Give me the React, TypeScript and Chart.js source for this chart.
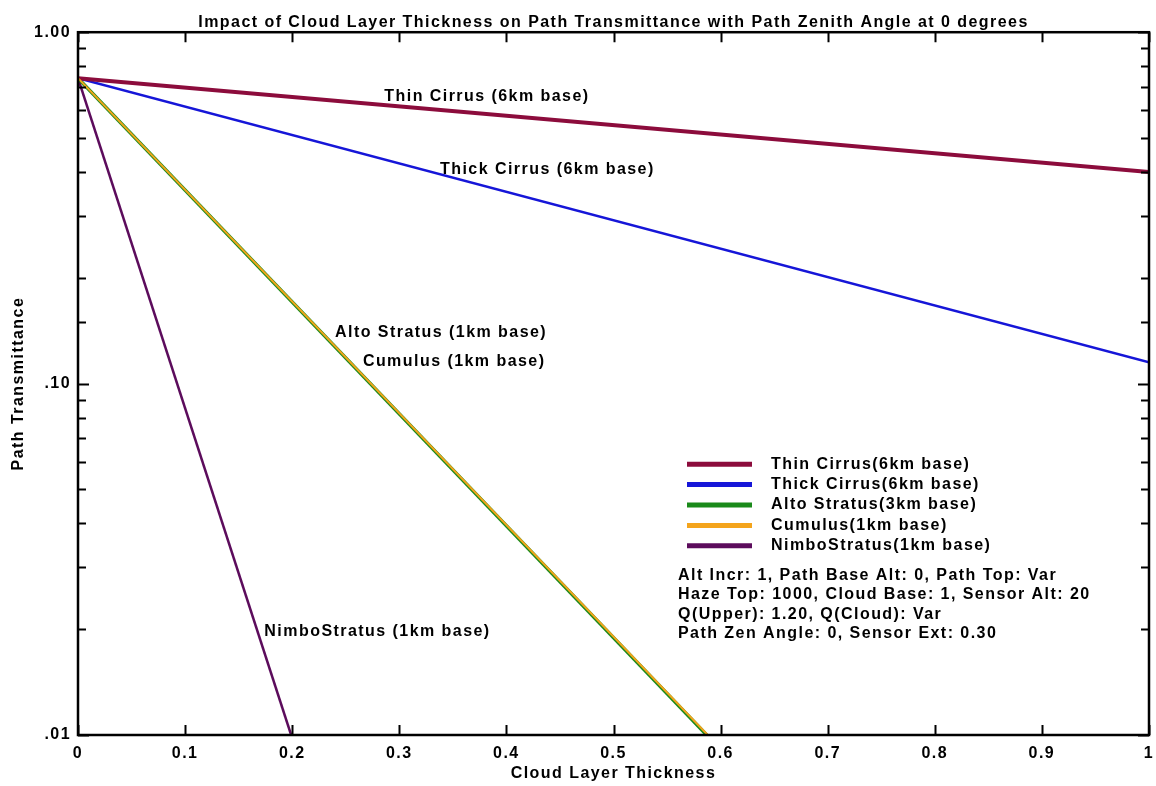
import React, { useEffect, useRef } from 'react';
import { Chart, registerables } from 'chart.js';

Chart.register(...registerables);

const chartTitle =
  'Impact of Cloud Layer Thickness on Path Transmittance with Path Zenith Angle at 0 degrees';
const xAxisTitle = 'Cloud Layer Thickness';
const yAxisTitle = 'Path Transmittance';

const seriesNames = [
  'Thin Cirrus(6km base)',
  'Thick Cirrus(6km base)',
  'Alto Stratus(3km base)',
  'Cumulus(1km base)',
  'NimboStratus(1km base)',
];
const seriesColors = ['#8c0c3c', '#1616d8', '#1a8a1a', '#f4a41c', '#5c0c5c'];
const seriesWidths = [4, 2.5, 3.5, 2, 2.5];
const seriesOrder = [1, 1, 1, 0, 1];

// x = cloud layer thickness, y = path transmittance
const thinCirrusX = [0, 1];
const thinCirrusY = [0.74, 0.4];
const thickCirrusX = [0, 1];
const thickCirrusY = [0.74, 0.115];
const altoStratusX = [0, 0.587];
const altoStratusY = [0.74, 0.01];
const cumulusX = [0, 0.588];
const cumulusY = [0.74, 0.01];
const nimboStratusX = [0, 0.199];
const nimboStratusY = [0.74, 0.01];

const seriesX = [thinCirrusX, thickCirrusX, altoStratusX, cumulusX, nimboStratusX];
const seriesY = [thinCirrusY, thickCirrusY, altoStratusY, cumulusY, nimboStratusY];

const yTickLabels = ['.01', '.10', '1.00'];

// in-plot curve labels, anchored in data coordinates (left edge, middle)
const curveLabels = [
  'Thin Cirrus (6km base)',
  'Thick Cirrus (6km base)',
  'Alto Stratus (1km base)',
  'Cumulus (1km base)',
  'NimboStratus (1km base)',
];
const curveLabelX = [0.286, 0.338, 0.24, 0.266, 0.174];
const curveLabelY = [0.657, 0.407, 0.14, 0.1155, 0.01965];

const infoLines = [
  'Alt Incr: 1, Path Base Alt: 0, Path Top: Var',
  'Haze Top: 1000, Cloud Base: 1, Sensor Alt: 20',
  'Q(Upper): 1.20, Q(Cloud): Var',
  'Path Zen Angle: 0, Sensor Ext: 0.30',
];

const FONT_FAMILY = '"Liberation Sans", Arial, Helvetica, sans-serif';
const TEXT_FONT = `bold 16px ${FONT_FAMILY}`;
const LETTER_SPACING = '1.45px';

const spacingPlugin = {
  id: 'letterSpacing',
  beforeUpdate(chart: any) {
    (chart.ctx as any).letterSpacing = LETTER_SPACING;
  },
  beforeDraw(chart: any) {
    (chart.ctx as any).letterSpacing = LETTER_SPACING;
  },
};

const framePlugin = {
  id: 'frameAndText',
  afterDatasetsDraw(chart: any) {
    const ctx: CanvasRenderingContext2D = chart.ctx;
    const { left, right, top, bottom } = chart.chartArea;
    const xs = chart.scales.x;
    const ys = chart.scales.y;
    ctx.save();
    (ctx as any).letterSpacing = LETTER_SPACING;
    ctx.strokeStyle = '#000';
    ctx.lineWidth = 2.5;
    ctx.strokeRect(left, top, right - left, bottom - top);

    // inward ticks
    ctx.lineWidth = 2;
    ctx.beginPath();
    xs.ticks.forEach((t: any) => {
      const px = Math.round(xs.getPixelForValue(t.value)) + 0.5;
      ctx.moveTo(px, bottom);
      ctx.lineTo(px, bottom - 10);
      ctx.moveTo(px, top);
      ctx.lineTo(px, top + 10);
    });
    ys.ticks.forEach((t: any) => {
      const l = Math.log10(t.value);
      const major = Math.abs(l - Math.round(l)) < 1e-6;
      const len = major ? 11 : 8;
      const py = Math.round(ys.getPixelForValue(t.value)) + 0.5;
      ctx.moveTo(left, py);
      ctx.lineTo(left + len, py);
      ctx.moveTo(right, py);
      ctx.lineTo(right - len, py);
    });
    ctx.stroke();

    // curve labels
    ctx.font = TEXT_FONT;
    ctx.fillStyle = '#000';
    ctx.textAlign = 'left';
    ctx.textBaseline = 'middle';
    curveLabels.forEach((txt, i) => {
      ctx.fillText(txt, xs.getPixelForValue(curveLabelX[i]), ys.getPixelForValue(curveLabelY[i]));
    });

    // legend
    const lx = left + 609;
    const ly = top + 432;
    chart.data.datasets.forEach((ds: any, i: number) => {
      const y = ly + i * 20.4;
      ctx.strokeStyle = ds.borderColor;
      ctx.lineWidth = 5;
      ctx.beginPath();
      ctx.moveTo(lx, y);
      ctx.lineTo(lx + 65, y);
      ctx.stroke();
      ctx.fillStyle = '#000';
      ctx.fillText(ds.label, lx + 84, y);
    });
    infoLines.forEach((txt, i) => {
      ctx.fillText(txt, lx - 9, ly + 111 + i * 19.5);
    });
    ctx.restore();
  },
};

export default function App() {
  const ref = useRef<HTMLCanvasElement>(null);
  useEffect(() => {
    document.body.style.margin = '0';
    const canvas = ref.current!;
    const chart = new Chart(canvas, {
      type: 'line',
      data: {
        datasets: seriesNames.map((name, i) => ({
          label: name,
          data: seriesX[i].map((x, j) => ({ x, y: seriesY[i][j] })),
          borderColor: seriesColors[i],
          backgroundColor: seriesColors[i],
          borderWidth: seriesWidths[i],
          pointRadius: 0,
          tension: 0,
          fill: false,
          order: seriesOrder[i],
        })),
      },
      options: {
        responsive: false,
        animation: false,
        devicePixelRatio: 1,
        layout: { padding: { top: 10, right: 0, left: 0, bottom: 0 } },
        font: { family: FONT_FAMILY },
        plugins: {
          legend: { display: false },
          tooltip: { enabled: false },
          title: {
            display: true,
            fullSize: false,
            text: chartTitle,
            color: '#000',
            font: { family: FONT_FAMILY, size: 16, weight: 'bold', lineHeight: 1.2 },
            padding: { top: 3, bottom: 0 },
          },
        },
        scales: {
          x: {
            type: 'linear',
            min: 0,
            max: 1,
            grid: { display: false, drawTicks: false },
            border: { display: false },
            ticks: {
              stepSize: 0.1,
              autoSkip: false,
              maxRotation: 0,
              padding: 9,
              color: '#000',
              font: { family: FONT_FAMILY, size: 16, weight: 'bold' },
              callback: (v: any) => {
                const n = Number(v);
                if (Math.abs(n) < 1e-9) return '0';
                if (Math.abs(n - 1) < 1e-9) return '1';
                return n.toFixed(1);
              },
            },
            title: {
              display: true,
              text: xAxisTitle,
              color: '#000',
              font: { family: FONT_FAMILY, size: 16, weight: 'bold', lineHeight: 1.2 },
              padding: { top: 0, bottom: 3 },
            },
            afterFit: (scale: any) => {
              scale.height = 51;
              scale.paddingRight = 7;
              scale.paddingLeft = 0;
            },
          },
          y: {
            type: 'logarithmic',
            min: 0.01,
            max: 1,
            grid: { display: false, drawTicks: false },
            border: { display: false },
            ticks: {
              autoSkip: false,
              padding: 7,
              color: '#000',
              font: { family: FONT_FAMILY, size: 16, weight: 'bold' },
              callback: (v: any) => {
                const l = Math.log10(Number(v));
                const r = Math.round(l);
                if (Math.abs(l - r) > 1e-6) return '';
                return yTickLabels[r + 2] ?? '';
              },
            },
            title: {
              display: true,
              text: yAxisTitle,
              color: '#000',
              font: { family: FONT_FAMILY, size: 16, weight: 'bold', lineHeight: 1.2 },
              padding: { top: 9, bottom: 0 },
            },
            afterFit: (scale: any) => {
              scale.width = 78;
            },
          },
        },
      } as any,
      plugins: [spacingPlugin, framePlugin],
    });
    return () => chart.destroy();
  }, []);
  return (
    <div style={{ width: 1156, height: 786 }}>
      <canvas ref={ref} width={1156} height={786} style={{ display: 'block' }} />
    </div>
  );
}
